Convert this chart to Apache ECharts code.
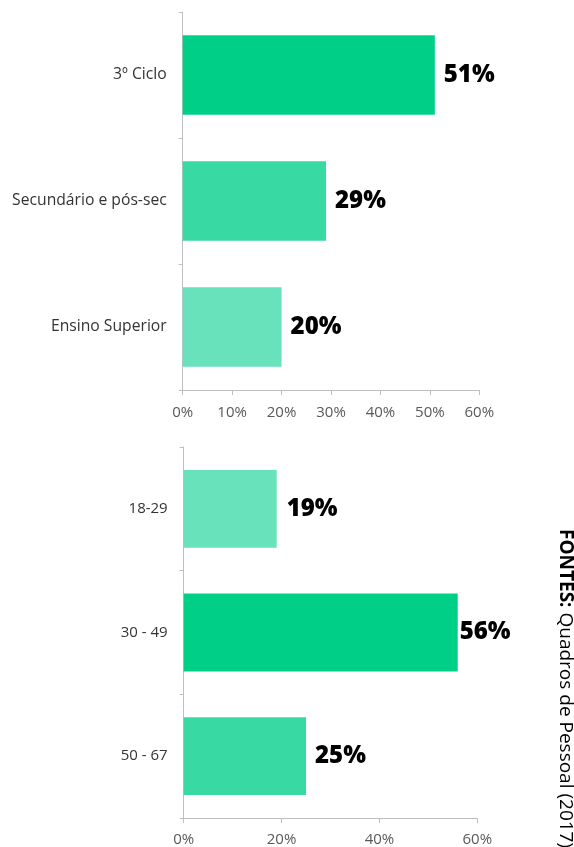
<!DOCTYPE html>
<html>
<head>
<meta charset="utf-8">
<style>
  html, body { margin: 0; padding: 0; background: #fff; }
  #chart { width: 574px; height: 847px; }
</style>
<script src="https://cdn.jsdelivr.net/npm/echarts@6/dist/echarts.min.js"></script>
</head>
<body>
<div id="chart"></div>
<script>
// Habilitações (educational level) shares
const eduCategories = ['3º Ciclo', 'Secundário e pós-sec', 'Ensino Superior'];
const eduValues = [51, 29, 20];
const eduColors = ['#00cf88', '#38d9a2', '#67e2ba'];

// Age group shares
const ageCategories = ['18-29', '30 - 49', '50 - 67'];
const ageValues = [19, 56, 25];
const ageColors = ['#67e2ba', '#00cf88', '#38d9a2'];

const sourceLabel = 'FONTES:';
const sourceText = ' Quadros de Pessoal (2017)';

const FONT = '"Open Sans", "Noto Sans", sans-serif';
const AXIS_GREY = '#bfbfbf';

function barSeries(idx, values, colors, labelGaps) {
  return {
    type: 'bar',
    xAxisIndex: idx,
    yAxisIndex: idx,
    barCategoryGap: '37%',
    data: values.map((v, i) => ({
      value: v,
      itemStyle: { color: colors[i] },
      label: { distance: labelGaps[i] }
    })),
    label: {
      show: true,
      position: 'right',
      formatter: '{c}%',
      color: '#000',
      fontFamily: FONT,
      fontWeight: 800,
      fontSize: 24
    },
    silent: true
  };
}

function xAxis(idx, interval, gap) {
  return {
    type: 'value',
    gridIndex: idx,
    min: 0,
    max: 60,
    interval: interval,
    splitLine: { show: false },
    axisLine: { show: true, lineStyle: { color: AXIS_GREY, width: 1 } },
    axisTick: { show: true, length: 5, lineStyle: { color: AXIS_GREY } },
    axisLabel: {
      formatter: '{value}%',
      color: '#595959',
      fontFamily: FONT,
      fontSize: 15,
      margin: gap
    }
  };
}

function yAxis(idx, cats, size) {
  return {
    type: 'category',
    gridIndex: idx,
    data: cats,
    inverse: true,
    axisLine: { show: true, lineStyle: { color: AXIS_GREY, width: 1 } },
    axisTick: { show: true, length: 4, lineStyle: { color: AXIS_GREY } },
    axisLabel: {
      color: '#333',
      fontFamily: FONT,
      fontSize: size,
      margin: 16
    }
  };
}

const chart = echarts.init(document.getElementById('chart'), null, { renderer: 'canvas' });

chart.setOption({
  backgroundColor: '#fff',
  animation: false,
  grid: [
    { left: 182.7, width: 296.6, top: 12, height: 378 },
    { left: 183.7, width: 293.6, top: 447, height: 372 }
  ],
  xAxis: [xAxis(0, 10, 15), xAxis(1, 20, 14)],
  yAxis: [yAxis(0, eduCategories, 15.7), yAxis(1, ageCategories, 15)],
  series: [
    barSeries(0, eduValues, eduColors, [9, 9, 9]),
    barSeries(1, ageValues, ageColors, [10, 2, 9])
  ],
  graphic: [
    {
      type: 'text',
      x: 565,
      y: 529,
      rotation: -Math.PI / 2,
      style: {
        text: '{b|' + sourceLabel + '}{r|' + sourceText + '}',
        align: 'left',
        verticalAlign: 'middle',
        rich: {
          b: { fontFamily: FONT, fontWeight: 'bold', fontSize: 19, fill: '#000' },
          r: { fontFamily: FONT, fontWeight: 'normal', fontSize: 19, fill: '#000' }
        }
      }
    }
  ]
});
</script>
</body>
</html>
